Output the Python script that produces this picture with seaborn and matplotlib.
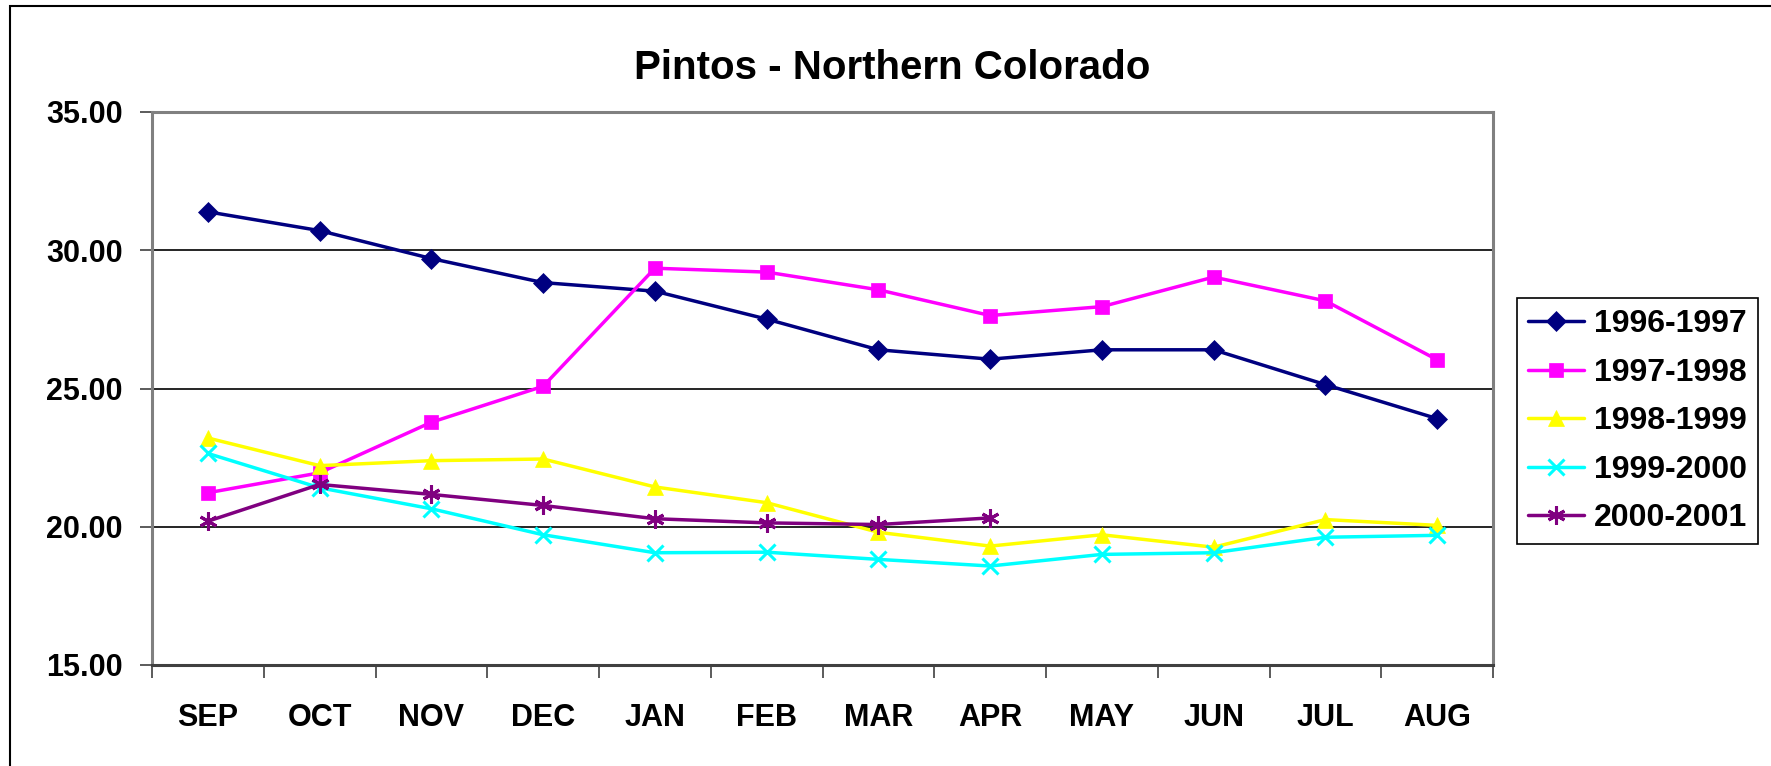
import numpy as np
import pandas as pd
import matplotlib
matplotlib.use('Agg')
import matplotlib.pyplot as plt
import seaborn as sns
from matplotlib.patches import Rectangle

# data
months = ['SEP', 'OCT', 'NOV', 'DEC', 'JAN', 'FEB', 'MAR', 'APR', 'MAY', 'JUN', 'JUL', 'AUG']
seasons = ['1996-1997', '1997-1998', '1998-1999', '1999-2000', '2000-2001']
s_96_97 = [31.39, 30.71, 29.70, 28.83, 28.52, 27.51, 26.40, 26.06, 26.40, 26.40, 25.14, 23.91]
s_97_98 = [21.23, 21.95, 23.78, 25.08, 29.35, 29.21, 28.57, 27.64, 27.96, 29.03, 28.17, 26.04]
s_98_99 = [23.21, 22.21, 22.39, 22.45, 21.44, 20.87, 19.80, 19.30, 19.71, 19.26, 20.26, 20.05]
s_99_00 = [22.65, 21.41, 20.65, 19.71, 19.06, 19.08, 18.82, 18.58, 19.00, 19.06, 19.62, 19.69]
s_00_01 = [20.20, 21.53, 21.17, 20.77, 20.29, 20.14, 20.08, 20.32]
y_ticks = [15, 20, 25, 30, 35]

series = [s_96_97, s_97_98, s_98_99, s_99_00, s_00_01]
colors = ['#000080', '#FF00FF', '#FFFF00', '#00FFFF', '#800080']
markers = ['D', 's', '^', 'x', (6, 2, 0)]
msizes = [10, 10, 11, 12, 13]

sns.set_theme(style='white')
plt.rcParams['font.family'] = ['Liberation Sans', 'DejaVu Sans']
plt.rcParams['font.weight'] = 'bold'
plt.rcParams['text.color'] = 'black'

W, H = 1771, 766
fig = plt.figure(figsize=(W / 100, H / 100), dpi=100)
ax = fig.add_axes([152 / W, 1 - 665 / H, (1493 - 152) / W, (665 - 112) / H])

for name, vals, col, mk, ms in zip(seasons, series, colors, markers, msizes):
    df = pd.DataFrame({'pos': np.arange(len(vals)), 'price': vals})
    sns.lineplot(data=df, x='pos', y='price', ax=ax, color=col, marker=mk,
                 markersize=ms, markeredgecolor=col, markerfacecolor=col,
                 markeredgewidth=2.2 if mk == 'x' or isinstance(mk, tuple) else 0.5,
                 linewidth=2.5, label=name, zorder=3)

ax.set_xlim(-0.5, len(months) - 0.5)
ax.set_ylim(y_ticks[0], y_ticks[-1])
ax.set_yticks(y_ticks)
ax.set_yticklabels(['%.2f' % v for v in y_ticks])
ax.set_xticks(np.arange(len(months)))
ax.set_xticklabels(months)
ax.set_xticks(np.arange(-0.5, len(months), 1), minor=True)
ax.set_xlabel('')
ax.set_ylabel('')

# gridlines only at inner values
for v in y_ticks[1:-1]:
    ax.axhline(v, color='#000000', linewidth=1.2, zorder=1)

for side in ['top', 'right', 'left', 'bottom']:
    ax.spines[side].set_visible(True)
    ax.spines[side].set_color('#808080')
    ax.spines[side].set_linewidth(2.2)
ax.spines['bottom'].set_color('#404040')

ax.tick_params(axis='y', which='major', length=9, width=1.2, color='#404040',
               pad=12, labelsize=22, left=True, labelcolor='black')
ax.tick_params(axis='x', which='major', length=0, pad=27, labelsize=22, labelcolor='black')
ax.tick_params(axis='x', which='minor', length=9, width=1.2, color='#404040', bottom=True)
for lab in ax.get_xticklabels() + ax.get_yticklabels():
    lab.set_fontweight('bold')

fig.text(0.504, 1 - 68 / H, 'Pintos - Northern Colorado', ha='center', va='center',
         fontsize=29, fontweight='bold', color='black')

leg = ax.legend(loc='upper left', bbox_to_anchor=(1517 / W, 1 - 298 / H),
                bbox_transform=fig.transFigure, frameon=True, fancybox=False,
                edgecolor='#000000', framealpha=1, prop={'size': 23, 'weight': 'bold'},
                handlelength=1.75, handletextpad=0.3, labelspacing=0.58,
                borderpad=0.35, borderaxespad=0)
leg.get_frame().set_linewidth(1.2)
for t in leg.get_texts():
    t.set_color('black')

# outer chart border
fig.patches.append(Rectangle((10 / W, -0.1), 1.2, 1 - 6 / H + 0.1, transform=fig.transFigure,
                             fill=False, edgecolor='#000000', linewidth=1.5))

fig.savefig('out.png', dpi=100)
